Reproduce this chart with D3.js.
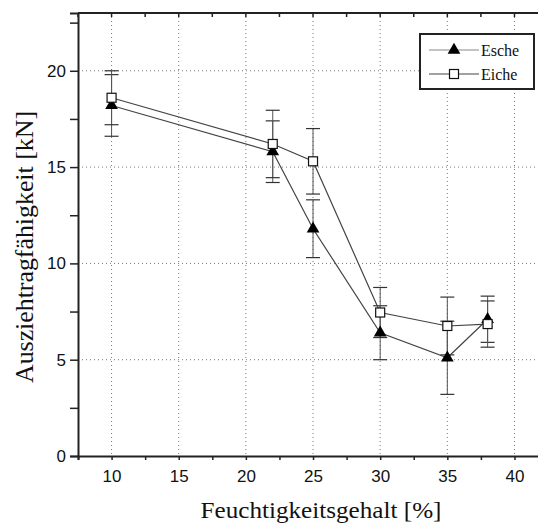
<!DOCTYPE html>
<html>
<head>
<meta charset="utf-8">
<script src="https://cdn.jsdelivr.net/npm/d3@7"></script>
<style>
  body { margin: 0; background: #fff; }
  svg { display: block; }
  .serif { font-family: "Liberation Serif", "DejaVu Serif", "Times New Roman", serif; }
  .sans { font-family: "Liberation Sans", Arial, Helvetica, sans-serif; }
</style>
</head>
<body>
<div id="chart"></div>
<script>
// Feuchtigkeitsgehalt [%]
const feuchte = [10, 22, 25, 30, 35, 38];
// Esche: Mittelwert und Streuung [kN]
const escheWerte = [18.2, 15.8, 11.8, 6.4, 5.1, 7.1];
const escheFehler = [1.6, 1.6, 1.5, 1.4, 1.9, 1.2];
// Eiche: Mittelwert und Streuung [kN]
const eicheWerte = [18.6, 16.2, 15.3, 7.45, 6.75, 6.85];
const eicheFehler = [1.4, 1.75, 1.7, 1.3, 1.5, 1.2];
// Achsen
const xTicks = [10, 15, 20, 25, 30, 35, 40];
const yTicks = [0, 5, 10, 15, 20];
const serien = ["Esche", "Eiche"];

const width = 538, height = 526;
const plotLeft = 78, plotTop = 13, plotBottom = 456;

const svg = d3.select("#chart").append("svg")
  .attr("width", width)
  .attr("height", height);

const x = d3.scaleLinear().domain([7.5, 42]).range([plotLeft, plotLeft + 34.5 * 13.43]);
const y = d3.scaleLinear().domain([0, 23]).range([plotBottom, plotTop]);

// Gitter (gepunktet)
svg.append("g").selectAll("line")
  .data(xTicks)
  .enter().append("line")
  .attr("x1", d => x(d)).attr("x2", d => x(d))
  .attr("y1", plotTop).attr("y2", plotBottom)
  .attr("stroke", "#777")
  .attr("stroke-width", 1)
  .attr("stroke-dasharray", "1,3");
svg.append("g").selectAll("line")
  .data(yTicks.filter(d => d > 0))
  .enter().append("line")
  .attr("x1", plotLeft).attr("x2", width)
  .attr("y1", d => y(d)).attr("y2", d => y(d))
  .attr("stroke", "#777")
  .attr("stroke-width", 1)
  .attr("stroke-dasharray", "1,3");

// Achsen
const xAxis = d3.axisBottom(x)
  .tickValues(d3.range(7.5, 42, 2.5))
  .tickSize(4)
  .tickFormat(d => xTicks.includes(d) ? d : "");
const gx = svg.append("g")
  .attr("transform", `translate(0,${plotBottom})`)
  .call(xAxis);
gx.attr("font-family", null).attr("font-size", null);
gx.select(".domain").attr("stroke", "#222").attr("stroke-width", 2);
gx.selectAll(".tick line").attr("stroke", "#222").attr("stroke-width", 1.5);
gx.selectAll(".tick text")
  .attr("class", "sans")
  .attr("dy", "0.71em")
  .attr("y", 14)
  .style("font-size", "17px")
  .attr("fill", "#111");

const yAxis = d3.axisLeft(y)
  .tickValues(d3.range(0, 23.1, 2.5))
  .tickSize(8)
  .tickFormat(d => yTicks.includes(d) ? d : "");
const gy = svg.append("g")
  .attr("transform", `translate(${plotLeft},0)`)
  .call(yAxis);
gy.attr("font-family", null).attr("font-size", null);
gy.select(".domain").attr("stroke", "#222").attr("stroke-width", 2);
gy.selectAll(".tick line").attr("stroke", "#222").attr("stroke-width", 1.5);
gy.selectAll(".tick text")
  .attr("class", "sans")
  .attr("x", -12)
  .style("font-size", "17px")
  .attr("fill", "#111");

// obere Begrenzung mit Ticks nach innen
svg.append("line")
  .attr("x1", plotLeft).attr("x2", width)
  .attr("y1", plotTop).attr("y2", plotTop)
  .attr("stroke", "#222").attr("stroke-width", 2);
svg.append("g").selectAll("line")
  .data(d3.range(7.5, 42, 2.5))
  .enter().append("line")
  .attr("x1", d => x(d)).attr("x2", d => x(d))
  .attr("y1", plotTop).attr("y2", plotTop + 4)
  .attr("stroke", "#222").attr("stroke-width", 1.5);

// Achsentitel (Vorlage ist leicht in die Breite gezogen)
svg.append("text")
  .attr("class", "serif")
  .attr("x", 321).attr("y", 518)
  .attr("text-anchor", "middle")
  .attr("textLength", 241)
  .attr("lengthAdjust", "spacingAndGlyphs")
  .style("font-size", "23px")
  .attr("fill", "#111")
  .text("Feuchtigkeitsgehalt [%]");
svg.append("text")
  .attr("class", "serif")
  .attr("transform", "translate(33,247) rotate(-90)")
  .attr("text-anchor", "middle")
  .attr("textLength", 272)
  .attr("lengthAdjust", "spacingAndGlyphs")
  .style("font-size", "25px")
  .attr("fill", "#111")
  .text("Ausziehtragfähigkeit [kN]");

// Daten zusammenbauen
const daten = {
  Esche: feuchte.map((f, i) => ({ x: f, y: escheWerte[i], e: escheFehler[i] })),
  Eiche: feuchte.map((f, i) => ({ x: f, y: eicheWerte[i], e: eicheFehler[i] }))
};

const line = d3.line().x(d => x(d.x)).y(d => y(d.y));

// Fehlerbalken
serien.forEach(s => {
  const g = svg.append("g");
  g.selectAll("line.v")
    .data(daten[s])
    .enter().append("line")
    .attr("x1", d => x(d.x)).attr("x2", d => x(d.x))
    .attr("y1", d => y(d.y - d.e)).attr("y2", d => y(d.y + d.e))
    .attr("stroke", "#555").attr("stroke-width", 1);
  [-1, 1].forEach(k => {
    g.selectAll(null)
      .data(daten[s])
      .enter().append("line")
      .attr("x1", d => x(d.x) - 7).attr("x2", d => x(d.x) + 7)
      .attr("y1", d => y(d.y + k * d.e)).attr("y2", d => y(d.y + k * d.e))
      .attr("stroke", "#333").attr("stroke-width", 1.2);
  });
});

// Linien
serien.forEach(s => {
  svg.append("path")
    .datum(daten[s])
    .attr("d", line)
    .attr("fill", "none")
    .attr("stroke", "#444")
    .attr("stroke-width", 1.2);
});

// Marker
const tri = d3.symbol().type(d3.symbolTriangle).size(70);
svg.append("g").selectAll("path")
  .data(daten.Esche)
  .enter().append("path")
  .attr("d", tri)
  .attr("transform", d => `translate(${x(d.x)},${y(d.y)})`)
  .attr("fill", "#000");
svg.append("g").selectAll("rect")
  .data(daten.Eiche)
  .enter().append("rect")
  .attr("x", d => x(d.x) - 4.5).attr("y", d => y(d.y) - 4.5)
  .attr("width", 9).attr("height", 9)
  .attr("fill", "#fff")
  .attr("stroke", "#111")
  .attr("stroke-width", 1.2);

// Legende
const leg = svg.append("g").attr("transform", "translate(420,34)");
leg.append("rect")
  .attr("width", 114).attr("height", 55)
  .attr("fill", "#fff")
  .attr("stroke", "#222").attr("stroke-width", 2);
serien.forEach((s, i) => {
  const ly = 16 + i * 24;
  leg.append("line")
    .attr("x1", 9).attr("x2", 59)
    .attr("y1", ly).attr("y2", ly)
    .attr("stroke", i === 0 ? "#888" : "#444").attr("stroke-width", 1.2);
  if (i === 0) {
    leg.append("path").attr("d", tri)
      .attr("transform", `translate(34,${ly})`)
      .attr("fill", "#000");
  } else {
    leg.append("rect")
      .attr("x", 29.5).attr("y", ly - 4.5)
      .attr("width", 9).attr("height", 9)
      .attr("fill", "#fff").attr("stroke", "#111").attr("stroke-width", 1.2);
  }
  leg.append("text")
    .attr("class", "serif")
    .attr("transform", `translate(61,${ly + 6})`)
    .style("font-size", "16px")
    .attr("fill", "#111")
    .text(s);
});
</script>
</body>
</html>
